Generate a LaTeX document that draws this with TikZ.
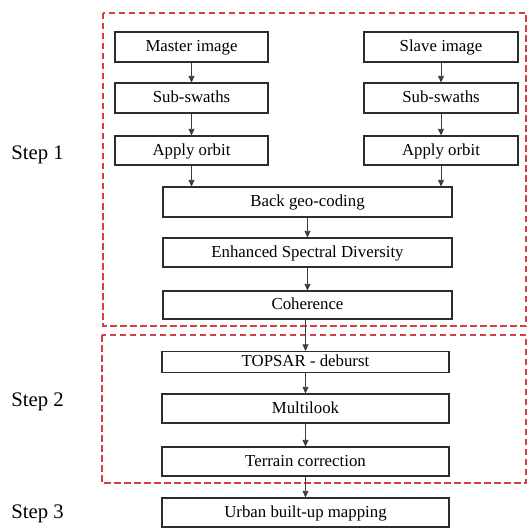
\documentclass[tikz,border=0pt]{standalone}
\usepackage{fontspec}
\setmainfont{Liberation Serif}
\usetikzlibrary{arrows.meta}
\definecolor{groupred}{RGB}{214,62,72}
\definecolor{boxgray}{RGB}{45,45,45}
\definecolor{arrowgray}{RGB}{60,60,60}
\begin{document}
\begin{tikzpicture}[x=1pt,y=-1pt,
  procbox/.style={draw=boxgray,line width=1.2pt,fill=white,inner sep=0pt,
    text height=1.02em,text depth=0.06em,font=\fontsize{16.8}{19}\selectfont},
  flow/.style={draw=arrowgray,line width=0.8pt,-{Triangle[length=6.5pt,width=6pt]}},
  group/.style={draw=groupred,line width=1.3pt,dash pattern=on 6.5pt off 3.5pt},
  steplabel/.style={font=\fontsize{20.7}{24}\selectfont}]
\useasboundingbox (0,0) rectangle (528,529);

% processing stage groups
\draw[group] (103,13) rectangle (526,326);
\draw[group] (102,335) rectangle (526,483);

% step labels
\node[steplabel] (s1) at (37.5,155) {Step 1};
\node[steplabel] (s2) at (37.5,402) {Step 2};
\node[steplabel] (s3) at (37.5,514) {Step 3};

% master branch
\node[procbox,minimum width=153pt,minimum height=30pt] (mi) at (191.5,47) {Master image};
\node[procbox,minimum width=153pt,minimum height=30pt] (ms) at (191.5,98) {Sub-swaths};
\node[procbox,minimum width=153pt,minimum height=29pt] (mo) at (191.5,150.5) {Apply orbit};

% slave branch
\node[procbox,minimum width=154pt,minimum height=30pt] (si) at (441,47) {Slave image};
\node[procbox,minimum width=154pt,minimum height=30pt] (ss) at (441,98) {Sub-swaths};
\node[procbox,minimum width=154pt,minimum height=29pt] (so) at (441,150.5) {Apply orbit};

% common chain
\node[procbox,minimum width=289pt,minimum height=30pt] (bg) at (307.5,202) {Back geo-coding};
\node[procbox,minimum width=289pt,minimum height=29pt] (esd) at (307.5,252.5) {Enhanced Spectral Diversity};
\node[procbox,minimum width=289pt,minimum height=28pt] (coh) at (307.5,305) {Coherence};
\node[procbox,minimum width=287pt,minimum height=21pt] (deb) at (305.5,362) {TOPSAR - deburst};
\node[procbox,minimum width=287pt,minimum height=29pt] (ml) at (305.5,408.5) {Multilook};
\node[procbox,minimum width=287pt,minimum height=29pt] (tc) at (305.5,461.5) {Terrain correction};
\node[procbox,minimum width=287pt,minimum height=29pt] (ub) at (305.5,512.5) {Urban built-up mapping};

% connectors
\draw[flow] (mi) -- (ms);
\draw[flow] (ms) -- (mo);
\draw[flow] (si) -- (ss);
\draw[flow] (ss) -- (so);
\draw[flow] (mo.south) -- (mo.south |- bg.north);
\draw[flow] (so.south) -- (so.south |- bg.north);
\draw[flow] (bg.south -| esd.north) -- (esd.north);
\draw[flow] (esd) -- (coh);
\draw[flow] ([xshift=-2pt]coh.south) -- (deb.north);
\draw[flow] (deb) -- (ml);
\draw[flow] (ml) -- (tc);
\draw[flow] (tc) -- (ub);
\end{tikzpicture}
\end{document}
